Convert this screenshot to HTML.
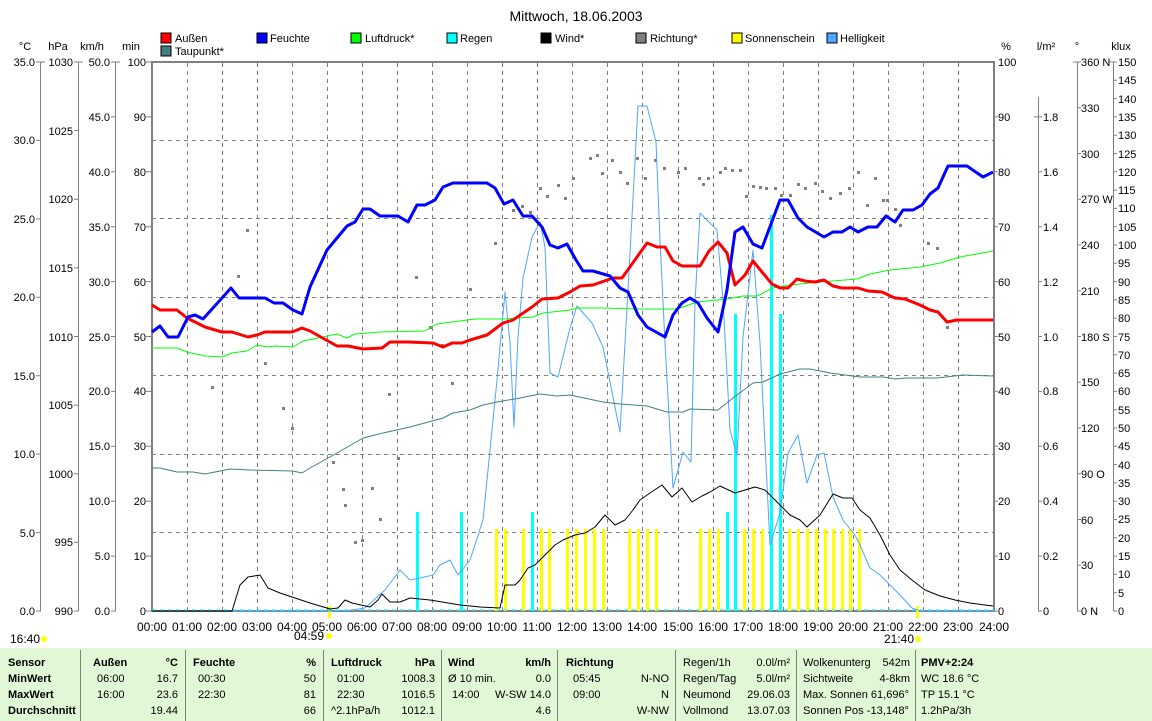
<!DOCTYPE html>
<html><head><meta charset="utf-8"><style>
html,body{margin:0;padding:0;background:#fff;width:1152px;height:721px;overflow:hidden}
svg{display:block;font-family:"Liberation Sans",sans-serif;font-size:11px}
</style></head><body>
<svg width="1152" height="721" viewBox="0 0 1152 721" xmlns="http://www.w3.org/2000/svg">
<text x="576" y="21" font-size="14" text-anchor="middle">Mittwoch, 18.06.2003</text>
<g stroke="#000" stroke-width="1">
<rect x="161" y="33" width="10" height="10" fill="#f00"/>
<rect x="257" y="33" width="10" height="10" fill="#00f"/>
<rect x="351" y="33" width="10" height="10" fill="#0f0"/>
<rect x="447" y="33" width="10" height="10" fill="#0ff"/>
<rect x="541" y="33" width="10" height="10" fill="#000"/>
<rect x="636" y="33" width="10" height="10" fill="#808080"/>
<rect x="732" y="33" width="10" height="10" fill="#ff0"/>
<rect x="827" y="33" width="10" height="10" fill="#4da6ff"/>
<rect x="161" y="46" width="10" height="10" fill="#408080"/>
</g>
<g font-size="11">
<text x="175" y="42">Außen</text><text x="270" y="42">Feuchte</text><text x="365" y="42">Luftdruck*</text>
<text x="460" y="42">Regen</text><text x="555" y="42">Wind*</text><text x="650" y="42">Richtung*</text>
<text x="745" y="42">Sonnenschein</text><text x="840" y="42">Helligkeit</text><text x="175" y="55">Taupunkt*</text>
</g>
<g text-anchor="middle"><text x="25" y="50">°C</text><text x="58" y="50">hPa</text><text x="92" y="50">km/h</text><text x="131" y="50">min</text>
<text x="1006" y="50">%</text><text x="1046" y="50">l/m²</text><text x="1077" y="50">°</text><text x="1121" y="50">klux</text></g>
<g stroke="#808080" stroke-width="1">
<line x1="40.5" y1="62" x2="40.5" y2="611"/><line x1="78.5" y1="62" x2="78.5" y2="611"/><line x1="115.5" y1="62" x2="115.5" y2="611"/>
<line x1="1038.5" y1="97" x2="1038.5" y2="611"/><line x1="1077.5" y1="62" x2="1077.5" y2="611"/><line x1="1113.5" y1="62" x2="1113.5" y2="611"/>
</g>
<g stroke="#808080">
<path d="M36 62h9M36 140.4h5M36 218.9h5M36 297.3h5M36 375.7h5M36 454.1h5M36 532.6h5M36 611h5"/>
<path d="M74 62h9M74 130.6h5M74 199.3h5M74 267.9h5M74 336.5h5M74 405.1h5M74 473.8h5M74 542.4h5M74 611h5"/>
<path d="M111 62h9M111 116.9h5M111 171.8h5M111 226.7h5M111 281.6h5M111 336.5h5M111 391.4h5M111 446.3h5M111 501.2h5M111 556.1h5M111 611h5"/>
<path d="M146 62h5M146 116.9h5M146 171.8h5M146 226.7h5M146 281.6h5M146 336.5h5M146 391.4h5M146 446.3h5M146 501.2h5M146 556.1h5M146 611h5"/>
<path d="M994 116.9h4M994 171.8h4M994 226.7h4M994 281.6h4M994 336.5h4M994 391.4h4M994 446.3h4M994 501.2h4M994 556.1h4M994 611h4"/>
<path d="M1034 116.9h8M1038 171.8h4M1038 226.7h4M1038 281.6h4M1038 336.5h4M1038 391.4h4M1038 446.3h4M1038 501.2h4M1038 556.1h4M1038 611h4"/>
<path d="M1073 62h8M1077 107.75h4M1077 153.5h4M1077 199.25h4M1077 245h4M1077 290.75h4M1077 336.5h4M1077 382.25h4M1077 428h4M1077 473.75h4M1077 519.5h4M1077 565.25h4M1077 611h4"/>
<path d="M1109 62h8M1113 80.3h4M1113 98.6h4M1113 116.9h4M1113 135.2h4M1113 153.5h4M1113 171.8h4M1113 190.1h4M1113 208.4h4M1113 226.7h4M1113 245h4M1113 263.3h4M1113 281.6h4M1113 299.9h4M1113 318.2h4M1113 336.5h4M1113 354.8h4M1113 373.1h4M1113 391.4h4M1113 409.7h4M1113 428h4M1113 446.3h4M1113 464.6h4M1113 482.9h4M1113 501.2h4M1113 519.5h4M1113 537.8h4M1113 556.1h4M1113 574.4h4M1113 592.7h4M1113 611h4"/>
</g>
<g text-anchor="end">
<text x="35" y="66">35.0</text><text x="35" y="144">30.0</text><text x="35" y="223">25.0</text><text x="35" y="301">20.0</text><text x="35" y="380">15.0</text><text x="35" y="458">10.0</text><text x="35" y="537">5.0</text><text x="35" y="615">0.0</text>
<text x="73" y="66">1030</text><text x="73" y="135">1025</text><text x="73" y="203">1020</text><text x="73" y="272">1015</text><text x="73" y="341">1010</text><text x="73" y="409">1005</text><text x="73" y="478">1000</text><text x="73" y="546">995</text><text x="73" y="615">990</text>
<text x="110" y="66">50.0</text><text x="110" y="121">45.0</text><text x="110" y="176">40.0</text><text x="110" y="231">35.0</text><text x="110" y="286">30.0</text><text x="110" y="341">25.0</text><text x="110" y="395">20.0</text><text x="110" y="450">15.0</text><text x="110" y="505">10.0</text><text x="110" y="560">5.0</text><text x="110" y="615">0.0</text>
<text x="146" y="66">100</text><text x="146" y="121">90</text><text x="146" y="176">80</text><text x="146" y="231">70</text><text x="146" y="286">60</text><text x="146" y="341">50</text><text x="146" y="395">40</text><text x="146" y="450">30</text><text x="146" y="505">20</text><text x="146" y="560">10</text><text x="146" y="615">0</text>
</g>
<g>
<text x="998" y="66">100</text><text x="998" y="121">90</text><text x="998" y="176">80</text><text x="998" y="231">70</text><text x="998" y="286">60</text><text x="998" y="341">50</text><text x="998" y="395">40</text><text x="998" y="450">30</text><text x="998" y="505">20</text><text x="998" y="560">10</text><text x="998" y="615">0</text>
<text x="1043" y="121">1.8</text><text x="1043" y="176">1.6</text><text x="1043" y="231">1.4</text><text x="1043" y="286">1.2</text><text x="1043" y="341">1.0</text><text x="1043" y="395">0.8</text><text x="1043" y="450">0.6</text><text x="1043" y="505">0.4</text><text x="1043" y="560">0.2</text><text x="1043" y="615">0</text>
<text x="1081" y="66">360 N</text><text x="1081" y="112">330</text><text x="1081" y="158">300</text><text x="1081" y="203">270 W</text><text x="1081" y="249">240</text><text x="1081" y="295">210</text><text x="1081" y="341">180 S</text><text x="1081" y="386">150</text><text x="1081" y="432">120</text><text x="1081" y="478">90 O</text><text x="1081" y="524">60</text><text x="1081" y="569">30</text><text x="1081" y="615">0 N</text>
<text x="1118" y="66">150</text><text x="1118" y="84">145</text><text x="1118" y="103">140</text><text x="1118" y="121">135</text><text x="1118" y="139">130</text><text x="1118" y="158">125</text><text x="1118" y="176">120</text><text x="1118" y="194">115</text><text x="1118" y="212">110</text><text x="1118" y="231">105</text><text x="1118" y="249">100</text><text x="1118" y="267">95</text><text x="1118" y="286">90</text><text x="1118" y="304">85</text><text x="1118" y="322">80</text><text x="1118" y="341">75</text><text x="1118" y="359">70</text><text x="1118" y="377">65</text><text x="1118" y="395">60</text><text x="1118" y="414">55</text><text x="1118" y="432">50</text><text x="1118" y="450">45</text><text x="1118" y="469">40</text><text x="1118" y="487">35</text><text x="1118" y="505">30</text><text x="1118" y="523">25</text><text x="1118" y="542">20</text><text x="1118" y="560">15</text><text x="1118" y="578">10</text><text x="1118" y="597">5</text><text x="1118" y="615">0</text>
</g>
<g stroke="#808080" stroke-width="1" stroke-dasharray="4,4">
<path d="M187.5 63V611M222.5 63V611M257.5 63V611M292.5 63V611M327.5 63V611M362.5 63V611M397.5 63V611M432.5 63V611M467.5 63V611M502.5 63V611M537.5 63V611M572.5 63V611M607.5 63V611M642.5 63V611M678.5 63V611M713.5 63V611M748.5 63V611M783.5 63V611M818.5 63V611M853.5 63V611M888.5 63V611M923.5 63V611M958.5 63V611"/>
<path d="M152 140.5H994M152 218.5H994M152 297.5H994M152 375.5H994M152 454.5H994M152 532.5H994"/>
</g>
<rect x="152" y="62" width="842" height="549" fill="none" stroke="#808080" stroke-width="2"/>
<g fill="#ff0">
<rect x="495" y="529" width="3" height="82"/><rect x="504" y="529" width="3" height="82"/><rect x="522" y="529" width="3" height="82"/><rect x="540" y="529" width="3" height="82"/><rect x="548" y="529" width="3" height="82"/><rect x="566" y="529" width="3" height="82"/><rect x="575" y="529" width="3" height="82"/><rect x="584" y="529" width="3" height="82"/><rect x="593" y="529" width="3" height="82"/><rect x="602" y="529" width="3" height="82"/><rect x="628" y="529" width="3" height="82"/><rect x="637" y="529" width="3" height="82"/><rect x="646" y="529" width="3" height="82"/><rect x="655" y="529" width="3" height="82"/><rect x="699" y="529" width="3" height="82"/><rect x="708" y="529" width="3" height="82"/><rect x="717" y="529" width="3" height="82"/><rect x="743" y="529" width="3" height="82"/><rect x="752" y="529" width="3" height="82"/><rect x="761" y="529" width="3" height="82"/><rect x="788" y="529" width="3" height="82"/><rect x="797" y="529" width="3" height="82"/><rect x="806" y="529" width="3" height="82"/><rect x="815" y="529" width="3" height="82"/><rect x="824" y="529" width="3" height="82"/><rect x="832" y="529" width="3" height="82"/><rect x="841" y="529" width="3" height="82"/><rect x="849" y="529" width="3" height="82"/><rect x="858" y="529" width="3" height="82"/>
<rect x="328" y="606" width="3" height="12"/><rect x="916" y="606" width="3" height="12"/>
</g>
<g fill="#0ff">
<rect x="416" y="512" width="3" height="99"/><rect x="460" y="512" width="3" height="99"/><rect x="531" y="512" width="3" height="99"/><rect x="726" y="512" width="3" height="99"/><rect x="734" y="314" width="3" height="297"/><rect x="770" y="215" width="3" height="396"/><rect x="779" y="314" width="3" height="297"/>
</g>
<line x1="152" y1="610" x2="994" y2="610" stroke="#0ff" stroke-dasharray="4,4"/>
<g fill="#808080">
<rect x="211" y="386" width="3" height="3"/><rect x="246" y="229" width="3" height="3"/><rect x="237" y="275" width="3" height="3"/><rect x="282" y="407" width="3" height="3"/><rect x="291" y="427" width="3" height="3"/><rect x="264" y="362" width="3" height="3"/><rect x="342" y="488" width="3" height="3"/><rect x="332" y="461" width="3" height="3"/><rect x="344" y="504" width="3" height="3"/><rect x="371" y="487" width="3" height="3"/><rect x="379" y="518" width="3" height="3"/><rect x="354" y="541" width="3" height="3"/><rect x="361" y="539" width="3" height="3"/><rect x="397" y="457" width="3" height="3"/><rect x="388" y="393" width="3" height="3"/><rect x="415" y="276" width="3" height="3"/><rect x="429" y="326" width="3" height="3"/><rect x="441" y="344" width="3" height="3"/><rect x="451" y="382" width="3" height="3"/><rect x="469" y="288" width="3" height="3"/><rect x="494" y="242" width="3" height="3"/><rect x="512" y="209" width="3" height="3"/><rect x="521" y="205" width="3" height="3"/><rect x="529" y="211" width="3" height="3"/><rect x="539" y="187" width="3" height="3"/><rect x="546" y="195" width="3" height="3"/><rect x="557" y="184" width="3" height="3"/><rect x="564" y="197" width="3" height="3"/><rect x="572" y="177" width="3" height="3"/><rect x="589" y="157" width="3" height="3"/><rect x="596" y="154" width="3" height="3"/><rect x="601" y="172" width="3" height="3"/><rect x="611" y="159" width="3" height="3"/><rect x="619" y="171" width="3" height="3"/><rect x="626" y="182" width="3" height="3"/><rect x="636" y="157" width="3" height="3"/><rect x="644" y="177" width="3" height="3"/><rect x="654" y="159" width="3" height="3"/><rect x="663" y="167" width="3" height="3"/><rect x="677" y="171" width="3" height="3"/><rect x="684" y="167" width="3" height="3"/><rect x="698" y="177" width="3" height="3"/><rect x="702" y="183" width="3" height="3"/><rect x="707" y="177" width="3" height="3"/><rect x="719" y="171" width="3" height="3"/><rect x="724" y="167" width="3" height="3"/><rect x="731" y="169" width="3" height="3"/><rect x="739" y="169" width="3" height="3"/><rect x="745" y="195" width="3" height="3"/><rect x="752" y="185" width="3" height="3"/><rect x="759" y="186" width="3" height="3"/><rect x="765" y="187" width="3" height="3"/><rect x="774" y="187" width="3" height="3"/><rect x="780" y="194" width="3" height="3"/><rect x="789" y="194" width="3" height="3"/><rect x="797" y="183" width="3" height="3"/><rect x="804" y="187" width="3" height="3"/><rect x="814" y="182" width="3" height="3"/><rect x="821" y="190" width="3" height="3"/><rect x="829" y="197" width="3" height="3"/><rect x="839" y="192" width="3" height="3"/><rect x="848" y="187" width="3" height="3"/><rect x="857" y="171" width="3" height="3"/><rect x="866" y="204" width="3" height="3"/><rect x="874" y="177" width="3" height="3"/><rect x="882" y="199" width="3" height="3"/><rect x="886" y="199" width="3" height="3"/><rect x="894" y="208" width="3" height="3"/><rect x="899" y="224" width="3" height="3"/><rect x="927" y="242" width="3" height="3"/><rect x="936" y="247" width="3" height="3"/><rect x="946" y="326" width="3" height="3"/>
</g>
<g fill="none" stroke-linejoin="round">
<polyline stroke="#4da6ff" stroke-width="1" points="152,611 345,611 365,608 385,590 400,570 410,580 420,578 433,575 440,565 450,560 458,575 470,560 483,520 497,380 505,292 510,343 514,427 518,337 523,278 532,237 540,222 545,247 550,373 558,377 570,328 577,306 592,323 603,347 620,432 628,290 638,106 647,106 656,142 660,240 665,343 673,488 683,452 691,462 695,303 700,213 717,230 723,300 730,430 737,455 743,337 753,250 760,343 770,545 780,513 788,453 798,435 807,483 817,455 824,453 833,497 843,520 855,535 860,545 870,568 880,575 900,595 912,608 920,611 994,611"/>
<polyline stroke="#000" stroke-width="1" points="152,611 232,611 240,585 248,577 260,575 268,588 280,593 295,598 310,603 330,609 338,608 345,600 352,603 370,607 378,600 382,594 390,602 400,602 410,598 430,600 460,605 480,607 500,608 505,585 515,585 520,580 528,568 535,565 545,555 555,545 563,540 575,535 585,533 595,527 605,515 615,525 625,520 633,510 640,500 650,493 662,485 672,497 682,488 692,502 702,496 710,492 720,486 735,493 745,490 755,487 765,490 775,500 790,515 800,520 807,527 820,515 833,494 843,498 852,498 860,510 870,518 880,535 890,555 900,570 912,580 925,590 940,596 955,600 970,603 985,605 993,606"/>
<polyline stroke="#408080" stroke-width="1" points="152,468 160,468 177,472 193,472 205,474 230,469 250,470 293,471 302,473 310,468 337,453 363,438 383,433 410,427 443,418 453,413 470,410 483,405 497,402 520,398 540,394 557,396 570,395 603,402 620,404 647,406 667,412 683,412 690,409 718,410 733,398 753,383 763,382 780,374 800,369 810,369 830,373 860,377 883,377 895,379 907,378 937,378 963,375 993,376"/>
<polyline stroke="#0f0" stroke-width="1" points="152,348 177,348 187,352 205,356 222,357 232,353 247,351 257,345 267,347 275,346 293,347 303,341 323,337 337,334 347,338 355,334 380,332 425,331 437,324 452,322 475,319 503,319 533,317 543,313 570,310 577,308 603,308 642,309 677,309 697,302 727,299 743,296 757,296 773,288 790,285 820,282 857,279 870,274 890,270 920,267 940,263 960,257 993,251"/>
<polyline stroke="#f00" stroke-width="3" points="152,305 160,310 177,310 187,318 205,327 222,332 232,332 248,337 257,335 265,332 292,332 302,328 310,331 337,346 348,346 363,349 382,348 390,342 408,342 433,343 443,347 452,343 462,343 470,340 487,335 503,323 513,320 532,307 542,299 558,298 570,292 580,286 593,285 613,278 622,278 647,243 657,247 665,247 673,261 682,266 700,266 709,251 718,242 727,253 735,285 745,275 753,261 762,272 772,284 780,288 788,288 797,279 805,281 815,282 824,280 833,286 842,288 858,288 868,291 882,292 895,298 905,299 920,305 930,310 938,312 947,322 957,320 993,320"/>
<polyline stroke="#00f" stroke-width="3" points="152,332 160,326 168,337 178,337 188,317 195,315 203,319 222,298 231,288 239,298 265,298 274,303 283,303 293,310 302,314 310,287 327,250 347,226 355,222 363,209 370,209 380,216 398,216 408,222 417,205 425,205 435,200 443,187 453,183 487,183 495,188 504,204 513,200 523,216 532,216 542,227 550,245 558,248 567,244 576,260 583,271 593,271 610,276 620,288 628,292 638,315 647,327 665,337 673,315 682,303 690,298 698,303 707,318 718,332 727,290 735,232 743,227 753,244 762,248 780,200 788,200 798,218 807,227 824,237 833,232 842,232 850,227 858,232 868,227 877,227 886,216 895,222 903,210 913,210 922,205 930,194 938,188 948,166 967,166 983,177 993,172"/>
</g>
<g text-anchor="middle" font-size="12">
<text x="152" y="631">00:00</text><text x="187" y="631">01:00</text><text x="222" y="631">02:00</text><text x="257" y="631">03:00</text><text x="292" y="631">04:00</text><text x="327" y="631">05:00</text><text x="362" y="631">06:00</text><text x="397" y="631">07:00</text><text x="432" y="631">08:00</text><text x="467" y="631">09:00</text><text x="502" y="631">10:00</text><text x="537" y="631">11:00</text><text x="572" y="631">12:00</text><text x="607" y="631">13:00</text><text x="642" y="631">14:00</text><text x="678" y="631">15:00</text><text x="713" y="631">16:00</text><text x="748" y="631">17:00</text><text x="783" y="631">18:00</text><text x="818" y="631">19:00</text><text x="853" y="631">20:00</text><text x="888" y="631">21:00</text><text x="923" y="631">22:00</text><text x="958" y="631">23:00</text><text x="994" y="631">24:00</text>
</g>
<text x="10" y="643" font-size="12">16:40</text><circle cx="44" cy="639" r="3" fill="#ff0"/>
<text x="294" y="640" font-size="12">04:59</text><circle cx="329" cy="636" r="3" fill="#ff0"/>
<text x="884" y="643" font-size="12">21:40</text><circle cx="918" cy="639" r="3" fill="#ff0"/>
<rect x="0" y="648" width="1152" height="73" fill="#e1f8d6"/>
<g stroke="#808080" stroke-width="1">
<path d="M80.5 650V721M185.5 650V721M323.5 650V721M441.5 650V721M557.5 650V721M675.5 650V721M796.5 650V721M915.5 650V721"/>
</g>
<g font-size="11">
<g font-weight="bold"><text x="8" y="666">Sensor</text><text x="8" y="682">MinWert</text><text x="8" y="698">MaxWert</text><text x="8" y="714">Durchschnitt</text>
<text x="93" y="666">Außen</text><text x="193" y="666">Feuchte</text><text x="331" y="666">Luftdruck</text><text x="448" y="666">Wind</text><text x="566" y="666">Richtung</text><text x="921" y="666">PMV+2:24</text>
<text x="178" y="666" text-anchor="end">°C</text><text x="316" y="666" text-anchor="end">%</text><text x="435" y="666" text-anchor="end">hPa</text><text x="551" y="666" text-anchor="end">km/h</text></g>
<text x="97" y="682">06:00</text><text x="97" y="698">16:00</text>
<text x="178" y="682" text-anchor="end">16.7</text><text x="178" y="698" text-anchor="end">23.6</text><text x="178" y="714" text-anchor="end">19.44</text>
<text x="198" y="682">00:30</text><text x="198" y="698">22:30</text>
<text x="316" y="682" text-anchor="end">50</text><text x="316" y="698" text-anchor="end">81</text><text x="316" y="714" text-anchor="end">66</text>
<text x="337" y="682">01:00</text><text x="337" y="698">22:30</text><text x="331" y="714">^2.1hPa/h</text>
<text x="435" y="682" text-anchor="end">1008.3</text><text x="435" y="698" text-anchor="end">1016.5</text><text x="435" y="714" text-anchor="end">1012.1</text>
<text x="448" y="682">Ø 10 min.</text><text x="452" y="698">14:00</text>
<text x="551" y="682" text-anchor="end">0.0</text><text x="551" y="698" text-anchor="end">W-SW 14.0</text><text x="551" y="714" text-anchor="end">4.6</text>
<text x="573" y="682">05:45</text><text x="573" y="698">09:00</text>
<text x="669" y="682" text-anchor="end">N-NO</text><text x="669" y="698" text-anchor="end">N</text><text x="669" y="714" text-anchor="end">W-NW</text>
<text x="683" y="666">Regen/1h</text><text x="683" y="682">Regen/Tag</text><text x="683" y="698">Neumond</text><text x="683" y="714">Vollmond</text>
<text x="790" y="666" text-anchor="end">0.0l/m²</text><text x="790" y="682" text-anchor="end">5.0l/m²</text><text x="790" y="698" text-anchor="end">29.06.03</text><text x="790" y="714" text-anchor="end">13.07.03</text>
<text x="803" y="666">Wolkenunterg</text><text x="803" y="682">Sichtweite</text><text x="803" y="698" textLength="106" lengthAdjust="spacingAndGlyphs">Max. Sonnen 61,696°</text><text x="803" y="714" textLength="106" lengthAdjust="spacingAndGlyphs">Sonnen Pos  -13,148°</text>
<text x="910" y="666" text-anchor="end">542m</text><text x="910" y="682" text-anchor="end">4-8km</text>
<text x="921" y="682">WC 18.6 °C</text><text x="921" y="698">TP 15.1 °C</text><text x="921" y="714">1.2hPa/3h</text>
</g>
</svg>
</body></html>
